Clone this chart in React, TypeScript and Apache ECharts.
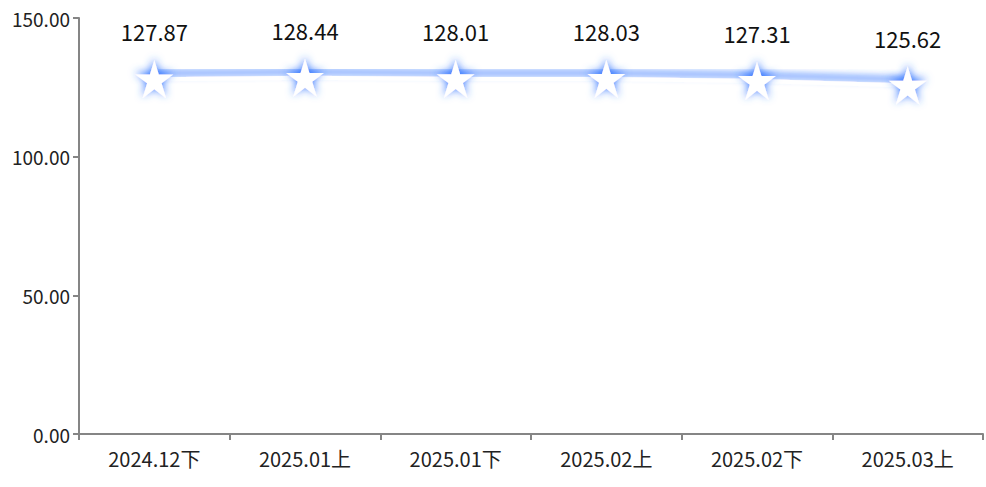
import React, { useEffect, useRef } from "react";
import * as echarts from "echarts";

const categories = ["2024.12下", "2025.01上", "2025.01下", "2025.02上", "2025.02下", "2025.03上"];
const values = [127.87, 128.44, 128.01, 128.03, 127.31, 125.62];
const yTicks = { min: 0, max: 150, interval: 50 };

export default function App() {
  const ref = useRef<HTMLDivElement>(null);
  useEffect(() => {
    document.body.style.margin = "0";
    if (!ref.current) return;
    const chart = echarts.init(ref.current, null, { renderer: "svg" });
    const font = "'Noto Sans CJK SC', 'Noto Sans', sans-serif";
    chart.setOption({
      animation: false,
      grid: { left: 79, right: 3, top: 18, bottom: 53, containLabel: false },
      xAxis: {
        type: "category",
        data: categories,
        boundaryGap: true,
        axisLine: { show: true, lineStyle: { color: "#858585", width: 2 } },
        axisTick: { show: true, length: 6, lineStyle: { color: "#858585", width: 2 } },
        axisLabel: { color: "#222", fontSize: 20, margin: 14, fontFamily: font },
      },
      yAxis: {
        type: "value",
        min: yTicks.min,
        max: yTicks.max,
        interval: yTicks.interval,
        splitLine: { show: false },
        axisLine: { show: true, lineStyle: { color: "#858585", width: 2 } },
        axisTick: { show: true, length: 6, lineStyle: { color: "#858585", width: 2 } },
        axisLabel: {
          color: "#222",
          fontSize: 19,
          margin: 9,
          fontFamily: font,
          formatter: (v: number) => v.toFixed(2),
        },
      },
      series: [
        {
          type: "line",
          data: values,
          symbol: "path://M50 0 L61.8 35.4 L100 35.4 L69.1 57.3 L80.9 95.1 L50 72.4 L19.1 95.1 L30.9 57.3 L0 35.4 L38.2 35.4 Z",
          symbolSize: 38,
          lineStyle: {
            color: "#ffffff",
            width: 4,
            shadowColor: "rgba(45,115,255,0.95)",
            shadowBlur: 7,
            shadowOffsetY: -6,
          },
          itemStyle: {
            color: "#ffffff",
            shadowColor: "rgba(45,115,255,1)",
            shadowBlur: 9,
            shadowOffsetY: -2,
          },
          label: {
            show: true,
            position: "top",
            distance: 18,
            color: "#111",
            fontSize: 22,
            fontFamily: font,
            formatter: (p: any) => Number(p.value).toFixed(2),
          },
        },
      ],
    });
    return () => chart.dispose();
  }, []);
  return <div ref={ref} style={{ width: 986, height: 487 }} />;
}
